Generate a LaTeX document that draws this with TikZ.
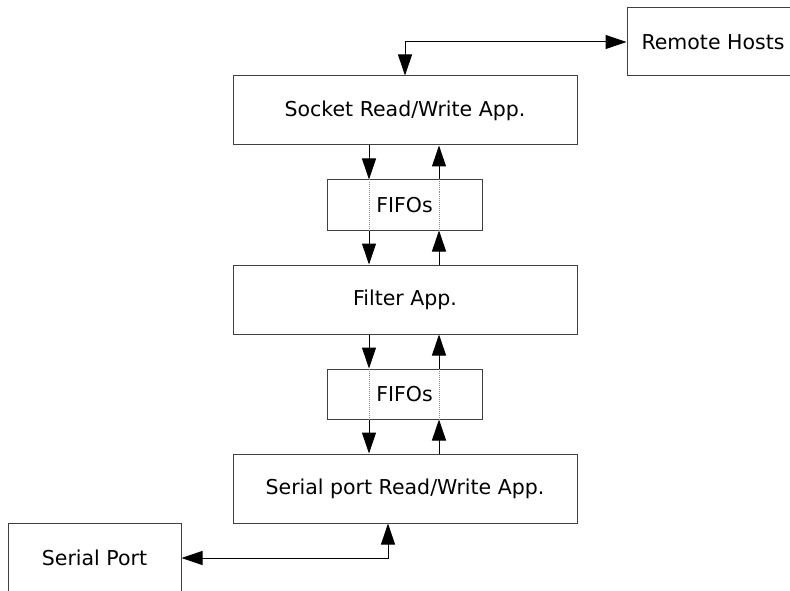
\documentclass[tikz,border=0pt]{standalone}
\usepackage{fontspec}
\setmainfont{DejaVu Sans}
\usetikzlibrary{arrows.meta}

\tikzset{
  appbox/.style={draw=black!75,line width=1pt,inner sep=0pt,
    minimum width=344pt,minimum height=69pt},
  fifobox/.style={draw=black!75,line width=1pt,inner sep=0pt,
    minimum width=155pt,minimum height=50pt},
  endbox/.style={draw=black!75,line width=1pt,inner sep=0pt,
    minimum width=180pt,minimum height=68pt},
  tip/.tip={Triangle[length=21pt,width=14pt]},
  link/.style={draw=black,line width=1pt,-tip},
  thru/.style={draw=black!45,line width=1pt,densely dotted},
}

\begin{document}
\begin{tikzpicture}[x=1pt,y=-1pt,font=\fontsize{20.5}{24}\selectfont]
  \useasboundingbox (0,0) rectangle (790,591);
  % columns of the connectors
  \coordinate (colD) at (369,0);
  \coordinate (colU) at (439,0);
  \coordinate (colS) at (388,0);

  \node[endbox]  (remote) at (717,42)    {\hspace*{-8pt}Remote Hosts};
  \node[appbox]  (sock)   at (405,110.5) {Socket Read/Write App.};
  \node[fifobox] (fifoA)  at (404.5,205) {FIFOs};
  \node[appbox]  (filt)   at (405,299.5) {Filter App.};
  \node[fifobox] (fifoB)  at (404.5,394) {FIFOs};
  \node[appbox]  (serapp) at (405,488.5) {Serial port Read/Write App.};
  \node[endbox,minimum width=173pt,minimum height=70pt]
                 (port)   at (94.5,558)  {Serial Port};

  \draw[link,tip-tip] (sock.north) |- (remote.west);
  \draw[link,tip-tip] (serapp.south -| colS) |- (port.east);

  \foreach \up/\fifo/\down in {sock/fifoA/filt, filt/fifoB/serapp} {
    % downward
    \draw[link] (\up.south -| colD) -- (\fifo.north -| colD);
    \draw[thru] (\fifo.north -| colD) -- (\fifo.south -| colD);
    \draw[link] (\fifo.south -| colD) -- (\down.north -| colD);
    % upward
    \draw[link] (\down.north -| colU) -- (\fifo.south -| colU);
    \draw[thru] (\fifo.south -| colU) -- (\fifo.north -| colU);
    \draw[link] (\fifo.north -| colU) -- (\up.south -| colU);
  }
\end{tikzpicture}
\end{document}
